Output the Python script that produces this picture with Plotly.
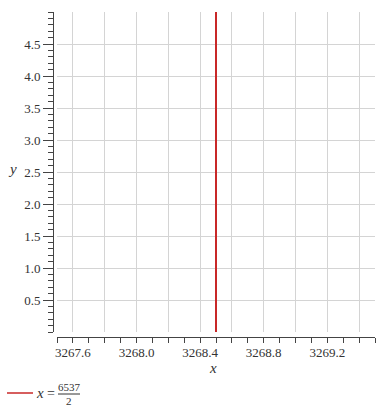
import plotly.graph_objects as go

# Data
line_x = [3268.5, 3268.5]
line_y = [0, 5]
x_tickvals = [3267.6, 3267.8, 3268.0, 3268.2, 3268.4, 3268.6, 3268.8, 3269.0, 3269.2, 3269.4]
x_ticktext = ["3267.6", "", "3268.0", "", "3268.4", "", "3268.8", "", "3269.2", ""]
y_tickvals = [0.5, 1.0, 1.5, 2.0, 2.5, 3.0, 3.5, 4.0, 4.5]
y_ticktext = ["0.5", "1.0", "1.5", "2.0", "2.5", "3.0", "3.5", "4.0", "4.5"]
x_range = [3267.5, 3269.5]
y_range = [0, 5]

W, H = 384, 414
ML, MR, MT, MB = 53, 9, 12, 77
pw = W - ML - MR
ph = H - MT - MB

def px(x):
    return (x - ML) / pw

def py(y):
    return (H - MB - y) / ph

FONT = "Liberation Serif"
RED = "rgb(200,40,40)"
GRID = "#d4d4d4"
AX = "#444444"
TXT = "#333333"
tfont = dict(family=FONT, size=13, color=TXT)

fig = go.Figure()
fig.add_trace(go.Scatter(x=line_x, y=line_y, mode="lines",
                         line=dict(color=RED, width=2), showlegend=False,
                         hoverinfo="skip"))

fig.update_layout(
    width=W, height=H,
    margin=dict(l=ML, r=MR, t=MT, b=MB),
    plot_bgcolor="white", paper_bgcolor="white",
    font=tfont,
    showlegend=False,
    xaxis=dict(
        range=x_range, domain=[px(57), 1], anchor="free", position=0,
        tickvals=x_tickvals, ticktext=x_ticktext, tickfont=tfont,
        ticks="outside", ticklen=3, tickcolor=AX, tickwidth=1,
        showline=True, linecolor=AX, linewidth=1,
        showgrid=True, gridcolor=GRID, gridwidth=1, zeroline=False,
        minor=dict(dtick=0.1, tick0=3267.5, ticks="outside", ticklen=5,
                   tickcolor=AX, showgrid=False),
    ),
    yaxis=dict(
        range=y_range, domain=[py(332), 1], anchor="free", position=0,
        tickvals=y_tickvals, ticktext=y_ticktext, tickfont=tfont,
        ticks="outside", ticklen=10, tickcolor=AX, tickwidth=1,
        showline=True, linecolor=AX, linewidth=1,
        showgrid=True, gridcolor=GRID, gridwidth=1, zeroline=False,
        minor=dict(dtick=0.1, tick0=0, ticks="outside", ticklen=5,
                   tickcolor=AX, showgrid=False),
    ),
)

def ann(text, x, y, size):
    fig.add_annotation(text=text, xref="paper", yref="paper",
                       x=px(x), y=py(y), xanchor="center", yanchor="middle",
                       showarrow=False,
                       font=dict(family=FONT, size=size, color=TXT))

# axis titles
ann("<i>x</i>", 213, 368, 15)
ann("<i>y</i>", 12, 169, 15)

# legend
fig.add_shape(type="line", xref="paper", yref="paper",
              x0=px(7), x1=px(33), y0=py(393), y1=py(393),
              line=dict(color=RED, width=1.5))
ann("<i>x</i>", 40, 393, 15)
ann("=", 51, 393, 14)
ann("6537", 69, 387, 11)
ann("2", 69, 401, 11)
fig.add_shape(type="line", xref="paper", yref="paper",
              x0=px(58), x1=px(80), y0=py(394), y1=py(394),
              line=dict(color=TXT, width=1))

fig.write_html("out.html")
